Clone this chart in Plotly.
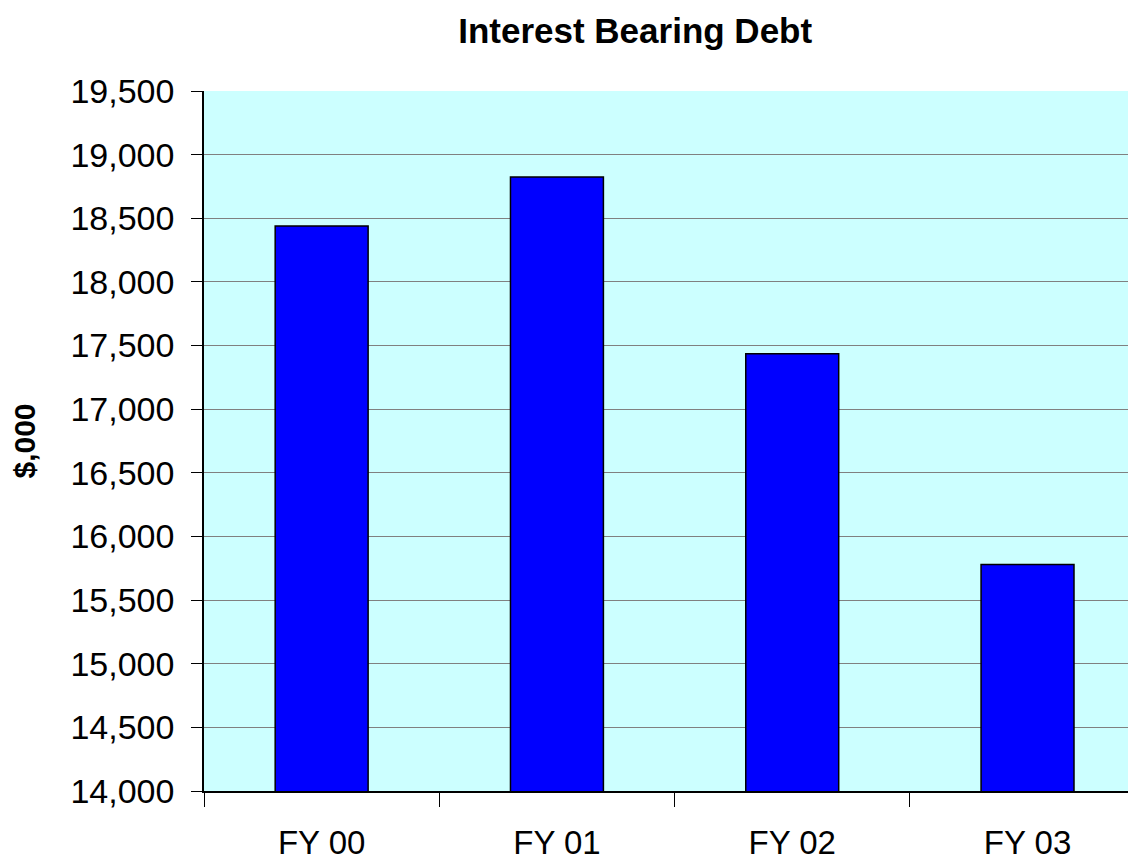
import plotly.graph_objects as go

# Data
categories = ["FY 00", "FY 01", "FY 02", "FY 03"]
debt = [18440, 18825, 17435, 15780]
y_ticks = list(range(14000, 19501, 500))
y_tick_labels = [f"{v:,}" for v in y_ticks]

fig = go.Figure(go.Bar(
    x=categories,
    y=debt,
    marker=dict(color="#0000FF", line=dict(color="#000000", width=1.5)),
    width=0.395,
))

# page body has an 8px margin, so the figure is sized to fit the window
fig.update_layout(
    width=1128,
    height=853,
    paper_bgcolor="white",
    plot_bgcolor="#CCFFFF",
    font=dict(family="Liberation Sans, Arial, sans-serif", color="black"),
    title=dict(
        text="<b>Interest Bearing Debt</b>",
        font=dict(size=35),
        x=0.556, xanchor="center",
        y=0.988, yanchor="top",
        pad=dict(t=0),
    ),
    margin=dict(l=196, r=0, t=83, b=61),
    showlegend=False,
)

fig.update_xaxes(
    range=[-0.5, 3.461],
    tickson="boundaries",
    ticks="outside",
    ticklen=14,
    tickcolor="black",
    tickfont=dict(size=33),
    ticklabelstandoff=22,
    showline=True,
    linecolor="black",
    linewidth=1.5,
    showgrid=False,
)

fig.update_yaxes(
    range=[14000, 19500],
    tickvals=y_ticks,
    ticktext=y_tick_labels,
    ticks="outside",
    ticklen=11,
    tickcolor="black",
    tickfont=dict(size=34),
    ticklabelstandoff=10,
    showline=True,
    linecolor="black",
    linewidth=1.5,
    showgrid=True,
    gridcolor="#808080",
    gridwidth=1,
    zeroline=False,
    title=dict(text="<b>$,000</b>", font=dict(size=30), standoff=26),
)

fig.write_html("out.html")
